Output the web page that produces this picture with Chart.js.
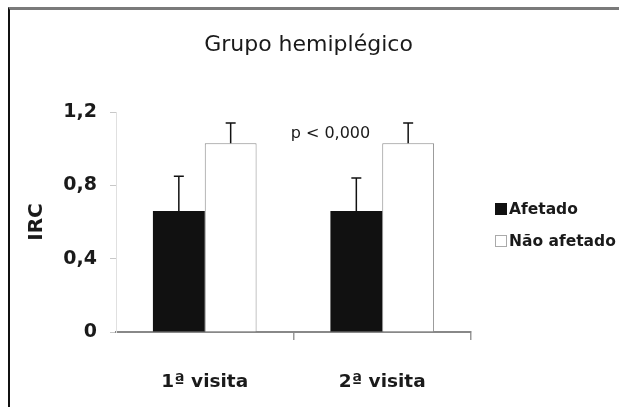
<!DOCTYPE html>
<html lang="pt">
<head>
<meta charset="utf-8">
<title>Grupo hemiplégico</title>
<script src="https://cdn.jsdelivr.net/npm/chart.js@4.4.1/dist/chart.umd.min.js"></script>
<style>
  html, body { margin: 0; padding: 0; background: #fff; }
  #wrap { position: relative; width: 619px; height: 407px; overflow: hidden; }
  #frame {
    position: absolute; left: 8px; top: 7px; right: -4px; bottom: -4px;
    border-top: 3px solid #7a7a7a; border-left: 2px solid #111;
    pointer-events: none;
  }
</style>
</head>
<body>
<div id="wrap">
  <canvas id="irc" width="619" height="407"></canvas>
  <div id="frame"></div>
</div>
<script>
// values
const chartTitle = 'Grupo hemiplégico';
const visitas = ['1ª visita', '2ª visita'];
const seriesNames = ['Afetado', 'Não afetado'];
const afetado = [0.66, 0.66];
const naoAfetado = [1.03, 1.03];
const erroAfetado = [0.19, 0.18];
const erroNaoAfetado = [0.11, 0.11];
const yTicks = [0, 0.4, 0.8, 1.2];
const pLabel = 'p < 0,000';
const pAt = { index: 1, value: 1.08 };

const ink = '#1a1a1a';
Chart.defaults.font.family = '"DejaVu Sans", "Liberation Sans", sans-serif';
Chart.defaults.color = ink;

// upward-only error bars with a cap
const errorBars = {
  id: 'errorBars',
  afterDatasetsDraw(chart) {
    const { ctx, scales: { y } } = chart;
    ctx.save();
    ctx.strokeStyle = '#111';
    ctx.lineWidth = 1.5;
    chart.data.datasets.forEach((ds, i) => {
      chart.getDatasetMeta(i).data.forEach((bar, j) => {
        const top = y.getPixelForValue(ds.data[j] + ds.errors[j]);
        ctx.beginPath();
        ctx.moveTo(bar.x, bar.y);
        ctx.lineTo(bar.x, top);
        ctx.moveTo(bar.x - 5, top);
        ctx.lineTo(bar.x + 5, top);
        ctx.stroke();
      });
    });
    ctx.restore();
  }
};

// title, p-value note and the legend on the right
const extras = {
  id: 'extras',
  afterDraw(chart) {
    const { ctx, chartArea, scales: { y } } = chart;
    ctx.save();
    ctx.fillStyle = ink;
    ctx.textBaseline = 'middle';

    ctx.font = '22px "DejaVu Sans"';
    ctx.textAlign = 'center';
    ctx.fillText(chartTitle, 308.5, 45);

    // p label sits over the left edge of the "Afetado" bar
    const bar = chart.getDatasetMeta(0).data[pAt.index];
    ctx.font = '16px "DejaVu Sans"';
    ctx.fillText(pLabel, bar.x - bar.width / 2, y.getPixelForValue(pAt.value));

    ctx.font = 'bold 15.5px "DejaVu Sans"';
    ctx.textAlign = 'left';
    const midY = (chartArea.top + chartArea.bottom) / 2;
    const bx = chartArea.right + 24;
    chart.data.datasets.forEach((ds, i) => {
      const cy = midY - 13 + i * 32;
      ctx.fillStyle = ds.backgroundColor;
      ctx.fillRect(bx, cy - 6, 12, 12);
      if (ds.borderWidth) {
        ctx.strokeStyle = '#aaa';
        ctx.lineWidth = 1;
        ctx.strokeRect(bx + 0.5, cy - 5.5, 11, 11);
      }
      ctx.fillStyle = ink;
      ctx.fillText(ds.label, bx + 14, cy + 1);
    });
    ctx.restore();
  }
};

new Chart(document.getElementById('irc'), {
  type: 'bar',
  data: {
    labels: visitas,
    datasets: [
      {
        label: seriesNames[0],
        data: afetado,
        errors: erroAfetado,
        backgroundColor: '#111',
        borderWidth: 0
      },
      {
        label: seriesNames[1],
        data: naoAfetado,
        errors: erroNaoAfetado,
        backgroundColor: '#fff',
        borderColor: '#8a8a8a',
        borderWidth: 1
      }
    ]
  },
  options: {
    responsive: false,
    animation: false,
    devicePixelRatio: 1,
    categoryPercentage: 0.584,
    barPercentage: 1,
    layout: { padding: { top: 112, right: 148, bottom: 14, left: 0 } },
    plugins: {
      legend: { display: false },
      title: { display: false },
      tooltip: { enabled: false }
    },
    scales: {
      x: {
        afterFit: axis => { axis.height = 61; },
        grid: {
          offset: true,
          drawOnChartArea: false,
          // no tick mark where the x axis meets the y axis
          color: c => (c.index === 0 ? 'rgba(0,0,0,0)' : '#999'),
          tickLength: 8,
          lineWidth: 1.5
        },
        border: { color: '#888', width: 2 },
        ticks: { padding: 30.9, color: ink, font: { size: 18.5, weight: 'bold' } }
      },
      y: {
        min: 0,
        max: 1.2,
        afterFit: axis => { axis.width = 116; },
        afterBuildTicks: axis => { axis.ticks = yTicks.map(v => ({ value: v })); },
        grid: { drawOnChartArea: false, color: '#c8c8c8', tickLength: 6 },
        border: { color: '#e0e0e0', width: 1 },
        ticks: {
          padding: 13,
          color: ink,
          font: { size: 19, weight: 'bold' },
          callback: v => String(+v.toFixed(1)).replace('.', ',')
        },
        title: {
          display: true,
          text: 'IRC',
          color: ink,
          font: { size: 20, weight: 'bold' },
          padding: { top: 24.5, bottom: 14.8 }
        }
      }
    }
  },
  plugins: [errorBars, extras]
});
</script>
</body>
</html>
